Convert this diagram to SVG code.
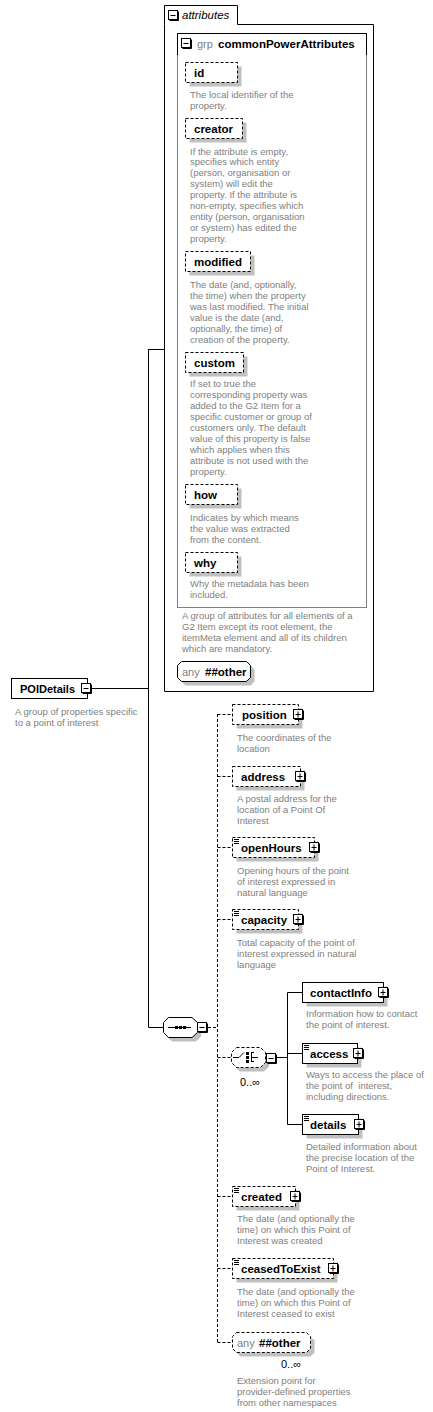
<svg xmlns="http://www.w3.org/2000/svg" xmlns:xlink="http://www.w3.org/1999/xlink" width="433" height="1412" viewBox="0 0 433 1412">
<style>
text{font-family:"Liberation Sans",Arial,sans-serif}
.lbl{font-size:11.5px;font-weight:bold;fill:#000}
.desc{font-size:9.5px;fill:#808080}
.gr{font-size:11px;fill:#808080}
.occ{font-size:11px;fill:#000}
.box{fill:#fff;stroke:#000;stroke-width:1}
.dash{stroke-dasharray:3,2}
.sh{fill:#c0c0c0}
.ln{fill:none;stroke:#000;stroke-width:1}
.dln{fill:none;stroke:#000;stroke-width:1;stroke-dasharray:3,2}
.mark{fill:none;stroke:#000;stroke-width:1}
</style>
<defs>
<g id="plus"><path d="M10.5 1.5V10.5H1.5" class="ln"/><rect x="0.5" y="0.5" width="9" height="9" class="box"/><path d="M2.5 5.5H7.5M5 2.5V8.5" class="ln"/></g>
<g id="minus"><path d="M10.5 1.5V10.5H1.5" class="ln"/><rect x="0.5" y="0.5" width="9" height="9" class="box"/><path d="M2.5 5.5H7.5" class="ln"/></g>
<path id="eq" d="M0 0.5h5M0 2.5h5M0 4.5h5" class="mark"/>
</defs>

<g id="connectors">
<path d="M91 688.5H148.5M148.5 349V1027.5M148.5 349.5H164M148.5 1027.5H163" class="ln"/>
<path d="M208 1027.5H217.5M217.5 714V1342.5M217.5 714.5H232M217.5 776.5H232M217.5 847.5H232M217.5 919.5H232M217.5 1057.5H231M217.5 1196.5H232M217.5 1268.5H232M217.5 1342.5H232" class="dln"/>
<path d="M276 1057.5H287.5M287.5 992.5V1124.5M287.5 992.5H302M287.5 1053.5H302M287.5 1124.5H302" class="ln"/>
</g>

<g id="attributes">
<path d="M164.5 24.5V5.5H237.5V24.5H373.5V691.5H164.5Z" class="box"/>
<use xlink:href="#minus" x="168" y="10"/>
<text x="182" y="19" style="font-size:11.5px;font-style:italic;fill:#000">attributes</text>
</g>

<g id="commonPowerAttributes">
<rect x="177.5" y="33.5" width="189" height="574" fill="#fff" stroke="#808080"/>
<path d="M177.5 55V33.5H366.5V55" class="ln"/>
<use xlink:href="#minus" x="181" y="38"/>
<text x="197" y="48" class="gr">grp</text>
<text x="218" y="48" class="lbl">commonPowerAttributes</text>
<text x="182" y="618.5" class="desc"><tspan x="182">A group of attributes for all elements of a</tspan><tspan x="182" dy="11">G2 Item except its root element, the</tspan><tspan x="182" dy="11">itemMeta element and all of its children</tspan><tspan x="182" dy="11">which are mandatory.</tspan></text>
</g>

<g id="attr-id">
<rect x="189.5" y="66.5" width="52" height="20" class="sh"/>
<rect x="185.5" y="62.5" width="52" height="20" class="box dash"/>
<text x="194" y="76.5" class="lbl">id</text>
<text x="190" y="97.5" class="desc"><tspan x="190">The local identifier of the</tspan><tspan x="190" dy="11">property.</tspan></text>
</g>

<g id="attr-creator">
<rect x="189.5" y="122.5" width="57" height="20" class="sh"/>
<rect x="185.5" y="118.5" width="57" height="20" class="box dash"/>
<text x="194" y="132.5" class="lbl">creator</text>
<text x="190" y="154.5" class="desc"><tspan x="190">If the attribute is empty,</tspan><tspan x="190" dy="10.9">specifies which entity</tspan><tspan x="190" dy="10.9">(person, organisation or</tspan><tspan x="190" dy="10.9">system) will edit the</tspan><tspan x="190" dy="10.9">property. If the attribute is</tspan><tspan x="190" dy="10.9">non-empty, specifies which</tspan><tspan x="190" dy="10.9">entity (person, organisation</tspan><tspan x="190" dy="10.9">or system) has edited the</tspan><tspan x="190" dy="10.9">property.</tspan></text>
</g>

<g id="attr-modified">
<rect x="189.5" y="255.5" width="65" height="20" class="sh"/>
<rect x="185.5" y="251.5" width="65" height="20" class="box dash"/>
<text x="194" y="265.5" class="lbl">modified</text>
<text x="190" y="287.5" class="desc"><tspan x="190">The date (and, optionally,</tspan><tspan x="190" dy="11">the time) when the property</tspan><tspan x="190" dy="11">was last modified. The initial</tspan><tspan x="190" dy="11">value is the date (and,</tspan><tspan x="190" dy="11">optionally, the time) of</tspan><tspan x="190" dy="11">creation of the property.</tspan></text>
</g>

<g id="attr-custom">
<rect x="189.5" y="356.5" width="58" height="20" class="sh"/>
<rect x="185.5" y="352.5" width="58" height="20" class="box dash"/>
<text x="194" y="366.5" class="lbl">custom</text>
<text x="190" y="386.5" class="desc"><tspan x="190">If set to true the</tspan><tspan x="190" dy="11">corresponding property was</tspan><tspan x="190" dy="11">added to the G2 Item for a</tspan><tspan x="190" dy="11">specific customer or group of</tspan><tspan x="190" dy="11">customers only. The default</tspan><tspan x="190" dy="11">value of this property is false</tspan><tspan x="190" dy="11">which applies when this</tspan><tspan x="190" dy="11">attribute is not used with the</tspan><tspan x="190" dy="11">property.</tspan></text>
</g>

<g id="attr-how">
<rect x="189.5" y="488.5" width="52" height="20" class="sh"/>
<rect x="185.5" y="484.5" width="52" height="20" class="box dash"/>
<text x="194" y="498.5" class="lbl">how</text>
<text x="190" y="520.5" class="desc"><tspan x="190">Indicates by which means</tspan><tspan x="190" dy="11">the value was extracted</tspan><tspan x="190" dy="11">from the content.</tspan></text>
</g>

<g id="attr-why">
<rect x="189.5" y="556.5" width="52" height="20" class="sh"/>
<rect x="185.5" y="552.5" width="52" height="20" class="box dash"/>
<text x="194" y="566.5" class="lbl">why</text>
<text x="190" y="586.5" class="desc"><tspan x="190">Why the metadata has been</tspan><tspan x="190" dy="11">included.</tspan></text>
</g>

<g id="anyAttribute">
<path d="M185.5 665.5H250.5L254.5 669.5V681.5L250.5 685.5H185.5L181.5 681.5V669.5Z" class="sh"/>
<path d="M181.5 661.5H246.5L250.5 665.5V677.5L246.5 681.5H181.5L177.5 677.5V665.5Z" class="box"/>
<text x="182" y="675.5" class="gr">any</text>
<text x="205" y="675.5" class="lbl">##other</text>
</g>

<g id="POIDetails">
<rect x="11.5" y="678.5" width="76" height="20" class="box"/>
<use xlink:href="#minus" x="81" y="683"/>
<text x="20" y="692.5" class="lbl" style="font-size:11px">POIDetails</text>
<text x="15" y="714.5" class="desc"><tspan x="15">A group of properties specific</tspan><tspan x="15" dy="11">to a point of interest</tspan></text>
</g>

<g id="sequence">
<path d="M172 1021.5H196L201 1026.5V1036.5L196 1041.5H172L167 1036.5V1026.5Z" class="sh"/>
<path d="M168.5 1017.5H192L197.5 1022.5V1032.5L192 1037.5H168.5L163.5 1032.5V1022.5Z" class="box"/>
<path d="M168 1027.5H191" class="ln"/>
<rect x="175" y="1026" width="3" height="3"/><rect x="179" y="1026" width="3" height="3"/><rect x="183" y="1026" width="3" height="3"/>
<use xlink:href="#minus" x="197" y="1022"/>
</g>

<g id="position">
<rect x="236.5" y="708.5" width="66" height="20" class="sh"/>
<rect x="232.5" y="704.5" width="66" height="20" class="box dash"/>
<text x="242" y="718.5" class="lbl">position</text>
<use xlink:href="#plus" x="293" y="709"/>
<text x="237" y="740.5" class="desc"><tspan x="237">The coordinates of the</tspan><tspan x="237" dy="11">location</tspan></text>
</g>

<g id="address">
<rect x="236.5" y="770.5" width="68" height="20" class="sh"/>
<rect x="232.5" y="766.5" width="68" height="20" class="box dash"/>
<text x="241" y="780.5" class="lbl">address</text>
<use xlink:href="#plus" x="295" y="771"/>
<text x="237" y="801.5" class="desc"><tspan x="237">A postal address for the</tspan><tspan x="237" dy="11">location of a Point Of</tspan><tspan x="237" dy="11">Interest</tspan></text>
</g>

<g id="openHours">
<rect x="236.5" y="841.5" width="82" height="20" class="sh"/>
<rect x="232.5" y="837.5" width="82" height="20" class="box dash"/>
<use xlink:href="#eq" x="234" y="839"/>
<text x="241" y="851.5" class="lbl">openHours</text>
<use xlink:href="#plus" x="309" y="842"/>
<text x="237" y="873.5" class="desc"><tspan x="237">Opening hours of the point</tspan><tspan x="237" dy="11">of interest expressed in</tspan><tspan x="237" dy="11">natural language</tspan></text>
</g>

<g id="capacity">
<rect x="236.5" y="913.5" width="66" height="20" class="sh"/>
<rect x="232.5" y="909.5" width="66" height="20" class="box dash"/>
<use xlink:href="#eq" x="234" y="911"/>
<text x="241" y="923.5" class="lbl">capacity</text>
<use xlink:href="#plus" x="293" y="914"/>
<text x="237" y="945.5" class="desc"><tspan x="237">Total capacity of the point of</tspan><tspan x="237" dy="11">interest expressed in natural</tspan><tspan x="237" dy="11">language</tspan></text>
</g>

<g id="choice">
<path d="M240 1051.5H264L269 1056.5V1066.5L264 1071.5H240L235 1066.5V1056.5Z" class="sh"/>
<path d="M236.5 1047.5H260.5L265.5 1052.5V1062.5L260.5 1067.5H236.5L231.5 1062.5V1052.5Z" class="box dash"/>
<path d="M233 1057.5H239L244 1052.5M251.5 1052V1062M251.5 1052.5H254M251.5 1061.5H254M251.5 1057.5H258" class="ln"/>
<rect x="246" y="1052" width="3" height="3"/><rect x="246" y="1056" width="3" height="3"/><rect x="246" y="1060" width="3" height="3"/>
<use xlink:href="#minus" x="266" y="1053"/>
<text x="240" y="1086" class="occ">0..∞</text>
</g>

<g id="contactInfo">
<rect x="306.5" y="986.5" width="81" height="20" class="sh"/>
<rect x="302.5" y="982.5" width="81" height="20" class="box"/>
<text x="310" y="996.5" class="lbl">contactInfo</text>
<use xlink:href="#plus" x="378" y="987"/>
<text x="306" y="1016.5" class="desc"><tspan x="306">Information how to contact</tspan><tspan x="306" dy="11">the point of interest.</tspan></text>
</g>

<g id="access">
<rect x="306.5" y="1047.5" width="55" height="20" class="sh"/>
<rect x="302.5" y="1043.5" width="55" height="20" class="box"/>
<use xlink:href="#eq" x="304" y="1045"/>
<text x="310" y="1057.5" class="lbl">access</text>
<use xlink:href="#plus" x="353" y="1048"/>
<text x="306" y="1077.5" class="desc"><tspan x="306">Ways to access the place of</tspan><tspan x="306" dy="11">the point of&#160; interest,</tspan><tspan x="306" dy="11">including directions.</tspan></text>
</g>

<g id="details">
<rect x="306.5" y="1118.5" width="56" height="20" class="sh"/>
<rect x="302.5" y="1114.5" width="56" height="20" class="box"/>
<use xlink:href="#eq" x="304" y="1116"/>
<text x="310" y="1128.5" class="lbl">details</text>
<use xlink:href="#plus" x="354" y="1119"/>
<text x="306" y="1149.5" class="desc"><tspan x="306">Detailed information about</tspan><tspan x="306" dy="11">the precise location of the</tspan><tspan x="306" dy="11">Point of Interest.</tspan></text>
</g>

<g id="created">
<rect x="236.5" y="1190.5" width="63" height="20" class="sh"/>
<rect x="232.5" y="1186.5" width="63" height="20" class="box dash"/>
<use xlink:href="#eq" x="234" y="1188"/>
<text x="241" y="1200.5" class="lbl">created</text>
<use xlink:href="#plus" x="290" y="1191"/>
<text x="237" y="1221.5" class="desc"><tspan x="237">The date (and optionally the</tspan><tspan x="237" dy="11">time) on which this Point of</tspan><tspan x="237" dy="11">Interest was created</tspan></text>
</g>

<g id="ceasedToExist">
<rect x="236.5" y="1262.5" width="101" height="20" class="sh"/>
<rect x="232.5" y="1258.5" width="101" height="20" class="box dash"/>
<use xlink:href="#eq" x="234" y="1260"/>
<text x="241" y="1272.5" class="lbl">ceasedToExist</text>
<use xlink:href="#plus" x="328" y="1263"/>
<text x="237" y="1294.5" class="desc"><tspan x="237">The date (and optionally the</tspan><tspan x="237" dy="11">time) on which this Point of</tspan><tspan x="237" dy="11">Interest ceased to exist</tspan></text>
</g>

<g id="anyElement">
<path d="M240.5 1336.5H310.5L314.5 1340.5V1352.5L310.5 1356.5H240.5L236.5 1352.5V1340.5Z" class="sh"/>
<path d="M236.5 1332.5H306.5L310.5 1336.5V1348.5L306.5 1352.5H236.5L232.5 1348.5V1336.5Z" class="box dash"/>
<text x="237" y="1346.5" class="gr">any</text>
<text x="259" y="1346.5" class="lbl">##other</text>
<text x="281" y="1368" class="occ">0..∞</text>
<text x="237" y="1383.5" class="desc"><tspan x="237">Extension point for</tspan><tspan x="237" dy="11">provider-defined properties</tspan><tspan x="237" dy="11">from other namespaces</tspan></text>
</g>
</svg>
